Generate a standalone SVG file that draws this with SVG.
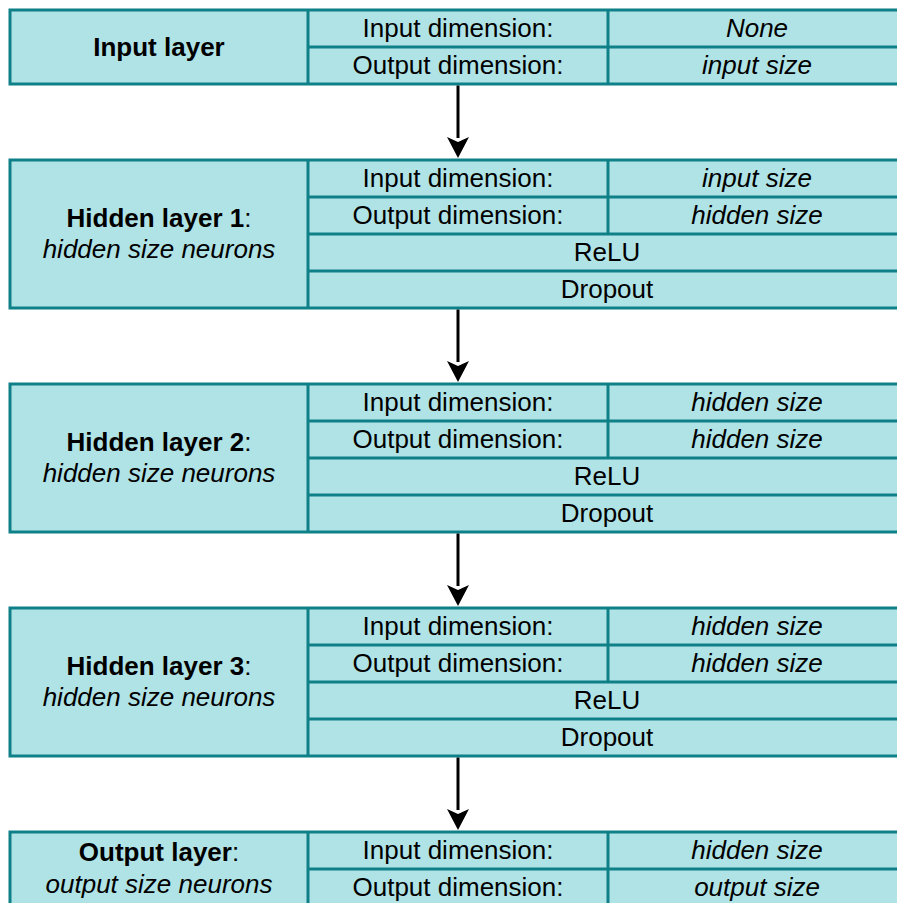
<svg xmlns="http://www.w3.org/2000/svg" width="897" height="903" viewBox="0 0 897 903">
<defs>
<style>
.box{fill:#b0e3e6;stroke:#0e8088;stroke-width:3}
.ln{stroke:#0e8088;stroke-width:3;fill:none}
text{font-family:"Liberation Sans",Arial,Helvetica,sans-serif;font-size:26px;fill:#000;text-anchor:middle}
.b{font-weight:bold}
.i{font-style:italic}
.con{stroke:#000;stroke-width:3;fill:none}
</style>
<marker id="ah" viewBox="0 0 21 22" markerWidth="21" markerHeight="22" refX="1" refY="11" orient="auto" markerUnits="userSpaceOnUse">
<path d="M0,0 L21,11 L0,22 L5,11 z" fill="#000"/>
</marker>
</defs>
<rect width="897" height="903" fill="#fff"/>

<g id="input-layer">
<rect class="box" x="10" y="10" width="896" height="74"/>
<path class="ln" d="M308,10 V84 M608,10 V84 M308,47 H906"/>
<text class="b" x="159" y="56">Input layer</text>
<text x="458" y="37">Input dimension:</text>
<text class="i" x="757" y="37">None</text>
<text x="458" y="74">Output dimension:</text>
<text class="i" x="757" y="74">input size</text>
</g>

<g id="hidden-layer-1">
<rect class="box" x="10" y="160" width="896" height="148"/>
<path class="ln" d="M308,160 V308 M608,160 V234 M308,197 H906 M308,234 H906 M308,271 H906"/>
<text x="159" y="227"><tspan class="b">Hidden layer 1</tspan>:</text>
<text class="i" x="159" y="258">hidden size neurons</text>
<text x="458" y="187">Input dimension:</text>
<text class="i" x="757" y="187">input size</text>
<text x="458" y="224">Output dimension:</text>
<text class="i" x="757" y="224">hidden size</text>
<text x="607" y="261">ReLU</text>
<text x="607" y="298">Dropout</text>
</g>

<g id="hidden-layer-2">
<rect class="box" x="10" y="384" width="896" height="148"/>
<path class="ln" d="M308,384 V532 M608,384 V458 M308,421 H906 M308,458 H906 M308,495 H906"/>
<text x="159" y="451"><tspan class="b">Hidden layer 2</tspan>:</text>
<text class="i" x="159" y="482">hidden size neurons</text>
<text x="458" y="411">Input dimension:</text>
<text class="i" x="757" y="411">hidden size</text>
<text x="458" y="448">Output dimension:</text>
<text class="i" x="757" y="448">hidden size</text>
<text x="607" y="485">ReLU</text>
<text x="607" y="522">Dropout</text>
</g>

<g id="hidden-layer-3">
<rect class="box" x="10" y="608" width="896" height="148"/>
<path class="ln" d="M308,608 V756 M608,608 V682 M308,645 H906 M308,682 H906 M308,719 H906"/>
<text x="159" y="675"><tspan class="b">Hidden layer 3</tspan>:</text>
<text class="i" x="159" y="706">hidden size neurons</text>
<text x="458" y="635">Input dimension:</text>
<text class="i" x="757" y="635">hidden size</text>
<text x="458" y="672">Output dimension:</text>
<text class="i" x="757" y="672">hidden size</text>
<text x="607" y="709">ReLU</text>
<text x="607" y="746">Dropout</text>
</g>

<g id="output-layer">
<rect class="box" x="10" y="832" width="896" height="74"/>
<path class="ln" d="M308,832 V906 M608,832 V906 M308,869 H906"/>
<text x="159" y="861"><tspan class="b">Output layer</tspan>:</text>
<text class="i" x="159" y="893">output size neurons</text>
<text x="458" y="859">Input dimension:</text>
<text class="i" x="757" y="859">hidden size</text>
<text x="458" y="896">Output dimension:</text>
<text class="i" x="757" y="896">output size</text>
</g>

<g id="connectors">
<line class="con" x1="458" y1="85.5" x2="458" y2="138" marker-end="url(#ah)"/>
<line class="con" x1="458" y1="309.5" x2="458" y2="362" marker-end="url(#ah)"/>
<line class="con" x1="458" y1="533.5" x2="458" y2="586" marker-end="url(#ah)"/>
<line class="con" x1="458" y1="757.5" x2="458" y2="810" marker-end="url(#ah)"/>
</g>
</svg>
